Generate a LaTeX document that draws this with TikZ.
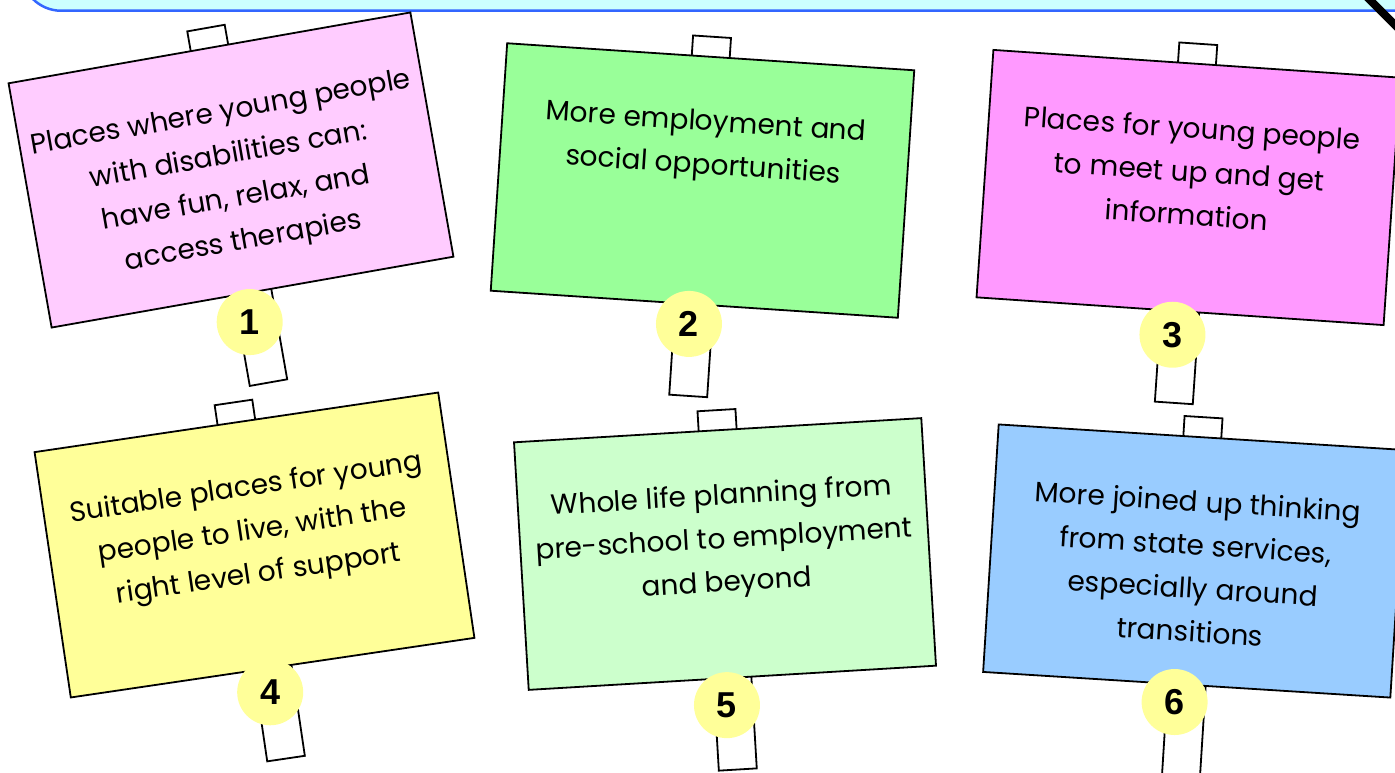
\documentclass[tikz,border=0pt]{standalone}
\usepackage{fontspec}
\setmainfont{Poppins}
\newfontfamily\numfont{Liberation Sans}
\definecolor{bannerfill}{HTML}{CCFFFF}
\definecolor{bannerline}{HTML}{3366FF}
\definecolor{cOne}{HTML}{FFCCFF}
\definecolor{cTwo}{HTML}{99FF99}
\definecolor{cThree}{HTML}{FF99FF}
\definecolor{cFour}{HTML}{FFFF99}
\definecolor{cFive}{HTML}{CCFFCC}
\definecolor{cSix}{HTML}{99CCFF}
\definecolor{disc}{HTML}{FFFF99}
\tikzset{
  stickbox/.style={draw=black, fill=white, line width=1.8pt, minimum width=38pt, inner sep=0pt},
  signbox/.style={draw=black, line width=1.8pt, minimum width=408pt, minimum height=248pt, inner sep=0pt},
  signtext/.style={inner sep=0pt, align=center, font=\fontsize{28}{43.5}\selectfont},
  numdisc/.style={circle, fill=disc, minimum size=66pt, inner sep=0pt, font=\numfont\bfseries\fontsize{36}{36}\selectfont}
}
\newcommand{\placard}[8]{%
  \begin{scope}[shift={(#2,#3)}, rotate=#4]
    \node[stickbox, minimum height=360pt, anchor=north, rotate=#4] (#1stick) at (0,-145) {};
    \node[signbox, fill=#5, rotate=#4] (#1) at (0,0) {};
    \node[signtext, anchor=north, rotate=#4] (#1text) at (0,-71) {#6};
    \node[numdisc] (#1num) at (#8) {#7};
  \end{scope}}
\begin{document}
\begin{tikzpicture}[x=1pt,y=-1pt]
\useasboundingbox (0,0) rectangle (1395,773);
\node[draw=bannerline, fill=bannerfill, line width=2.5pt, rounded corners=40pt, minimum width=1440pt, minimum height=100pt, anchor=south west] (banner) at (20,12) {};
\coordinate (slashA) at (1366,-4);
\coordinate (slashB) at (1400,30);
\draw[line width=8pt] (slashA) -- (slashB);
\placard{s1}{231}{170}{10}{cOne}{Places where young people\\with disabilities can:\\have fun, relax, and\\access therapies}{1}{-8,153}
\placard{s2}{702.5}{180.5}{-3.8}{cTwo}{More employment and\\social opportunities}{2}{-4,144}
\placard{s3}{1188.5}{187.5}{-3.9}{cThree}{Places for young people\\to meet up and get\\information}{3}{-6,148}
\placard{s4}{254.5}{545}{8.4}{cFour}{Suitable places for young\\people to live, with the\\right level of support}{4}{-6,148}
\placard{s5}{725}{554}{3.4}{cFive}{Whole life planning from\\pre-school to employment\\and beyond}{5}{-7,151}
\placard{s6}{1194.5}{561}{-3.6}{cSix}{More joined up thinking\\from state services,\\especially around\\transitions}{6}{-11,142}
\end{tikzpicture}
\end{document}
